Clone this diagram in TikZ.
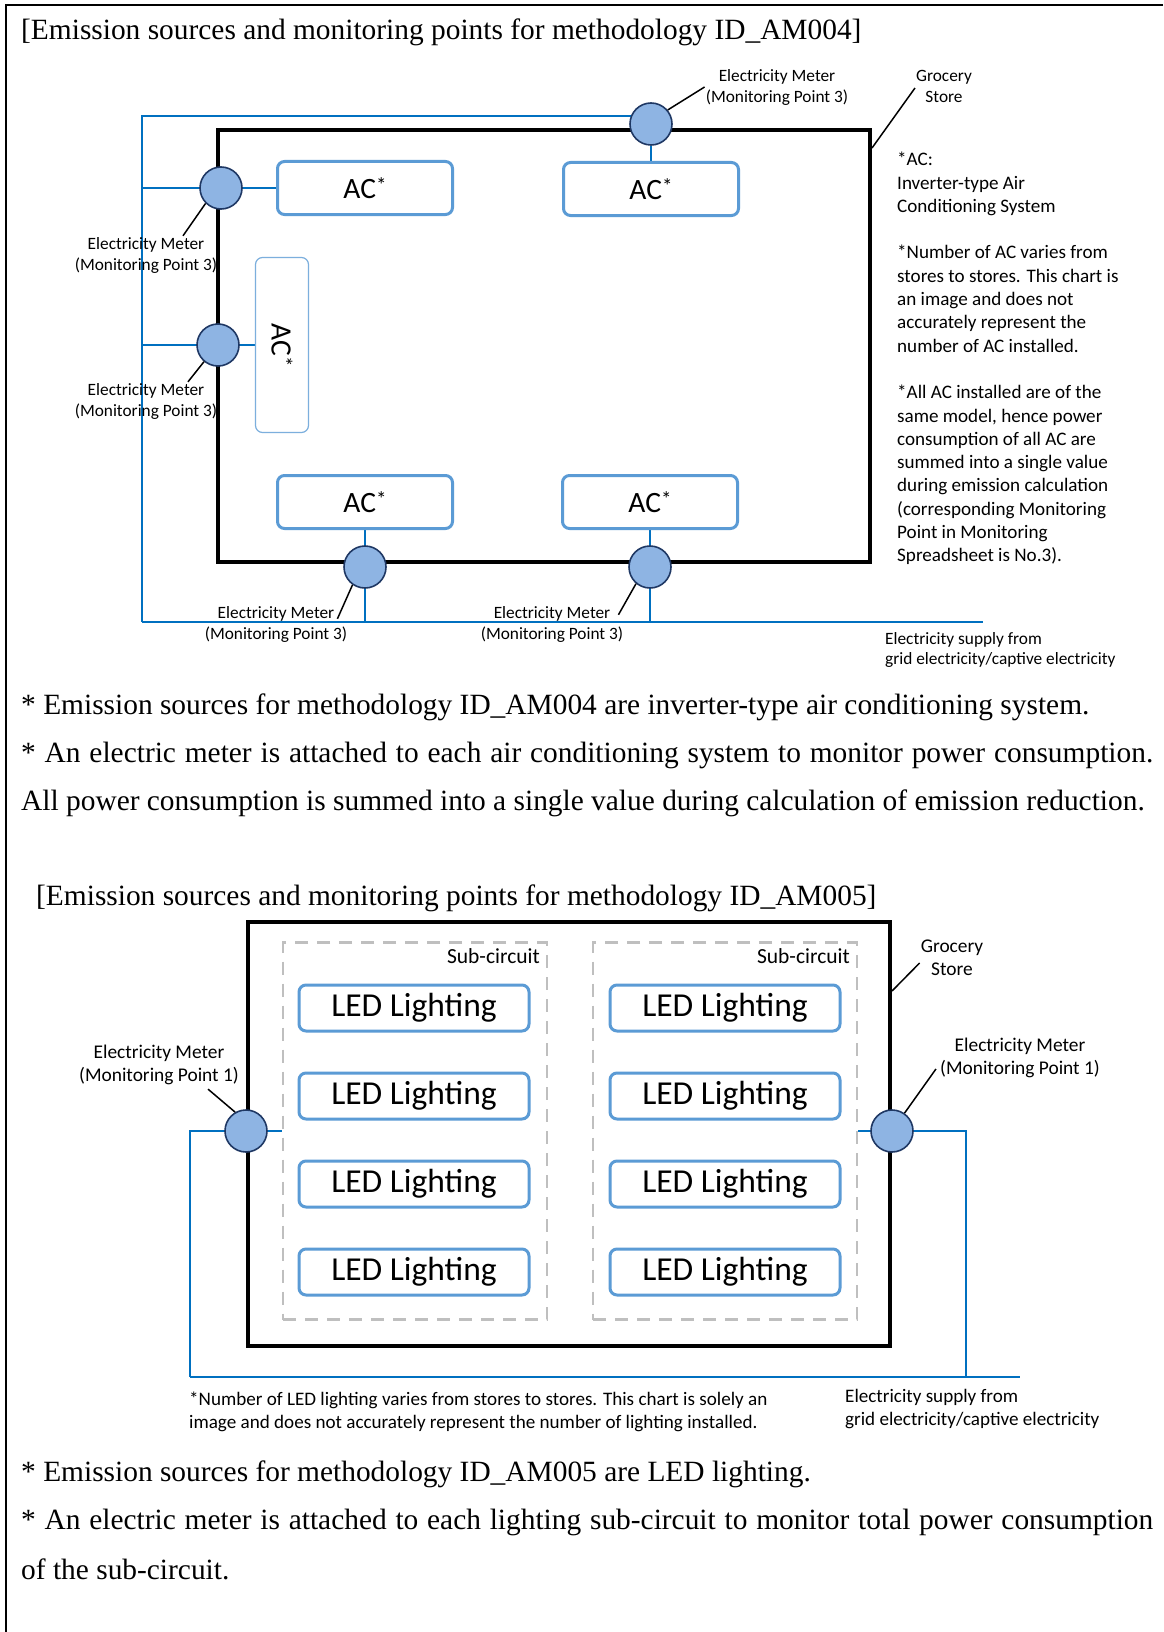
\documentclass[tikz,border=0pt]{standalone}
\usepackage{fontspec}
\setmainfont{Liberation Serif}
\newfontfamily\calibri{Carlito}
\usetikzlibrary{backgrounds}
\definecolor{meterfill}{RGB}{142, 180, 227}
\definecolor{meternavy}{RGB}{31, 56, 100}
\definecolor{boxblue}{RGB}{91, 155, 213}
\definecolor{lineblue}{RGB}{0, 112, 192}
\definecolor{dashgray}{RGB}{191, 191, 191}
\newcommand\acstar{AC\raisebox{0.2em}{\fontsize{21}{21}\selectfont *}}
\tikzset{
  store/.style      = {rectangle, draw=black, line width=4pt, inner sep=0pt},
  acbox/.style      = {rectangle, rounded corners=7pt, draw=boxblue, line width=3pt, fill=white, minimum width=175pt, minimum height=53pt, font=\calibri\fontsize{29.5}{32}\selectfont},
  acslim/.style     = {rectangle, rounded corners=7pt, draw=boxblue!80, line width=1.2pt, fill=white, minimum width=53pt, minimum height=175pt, inner sep=0pt, font=\calibri\fontsize{29.5}{32}\selectfont},
  ledbox/.style     = {rectangle, rounded corners=7pt, draw=boxblue, line width=3pt, fill=white, minimum width=230pt, minimum height=46pt, font=\calibri\fontsize{33.5}{36}\selectfont},
  subbox/.style     = {rectangle, draw=dashgray, line width=2.5pt, dash pattern=on 13pt off 9pt, inner sep=0pt},
  meter/.style      = {circle, draw=meternavy, fill=meterfill, line width=1.6pt, minimum size=42pt, inner sep=0pt},
  meterlab/.style   = {align=center, inner sep=1pt, font=\calibri\fontsize{17.3}{21}\selectfont},
  bigmeterlab/.style= {align=center, inner sep=1pt, font=\calibri\fontsize{19.4}{23}\selectfont},
  sublab/.style     = {inner sep=0pt, font=\calibri\fontsize{21.5}{24}\selectfont},
  sidenote/.style   = {align=left, inner sep=0pt, font=\calibri\fontsize{19.1}{23.3}\selectfont},
  footnote/.style   = {align=left, inner sep=0pt, font=\calibri\fontsize{17.3}{20}\selectfont},
  bigfootnote/.style= {align=left, inner sep=0pt, font=\calibri\fontsize{19.1}{23}\selectfont},
  heading/.style    = {anchor=west, inner sep=0pt, font=\fontsize{29.4}{34}\selectfont},
  bodyline/.style   = {anchor=west, inner sep=0pt, font=\fontsize{29.4}{34}\selectfont},
  wire/.style       = {lineblue, line width=1.5pt},
  mainwire/.style   = {lineblue, line width=2.5pt},
  leader/.style     = {black, line width=1.5pt},
}

\begin{document}
\begin{tikzpicture}[x=1pt, y=-1pt]
  \useasboundingbox (0,0) rectangle (1163,1632);
  \draw[line width=2.5pt] (1163,5) -- (6,5) -- (6,1632);

  % ID_AM004
  \node[heading] (title1) at (21,32) {[Emission sources and monitoring points for methodology ID\_AM004]};
  \node[store, minimum width=652pt, minimum height=432pt] (store1) at (544,346) {};
  \node[acbox] (ac1) at (365,188) {\acstar};
  \node[acbox] (ac2) at (651,189) {\acstar};
  \node[acslim] (ac3) at (282,345) {\rotatebox{-90}{\acstar}};
  \node[acbox] (ac4) at (365,502) {\acstar};
  \node[acbox] (ac5) at (650,502) {\acstar};
  \node[meter] (m1) at (651,124) {};
  \node[meter] (m2) at (221,188) {};
  \node[meter] (m3) at (218,345) {};
  \node[meter] (m4) at (365,567) {};
  \node[meter] (m5) at (650,567) {};
  \coordinate (sup1top) at (142,116);
  \coordinate (sup1bot) at (142,622);
  \coordinate (sup1end) at (983,622);

  \node[meterlab] (lab1) at (777,87) {Electricity Meter\\(Monitoring Point 3)};
  \node[meterlab] (lab2) at (146,255) {Electricity Meter\\(Monitoring Point 3)};
  \node[meterlab] (lab3) at (146,401) {Electricity Meter\\(Monitoring Point 3)};
  \node[meterlab] (lab4) at (276,624) {Electricity Meter\\(Monitoring Point 3)};
  \node[meterlab] (lab5) at (552,624) {Electricity Meter\\(Monitoring Point 3)};
  \node[meterlab] (shop1) at (944,86) {Grocery\\Store};
  \node[sidenote, anchor=north west] (acnote) at (897,152) {*AC:\\Inverter-type Air\\Conditioning System\\[23.3pt]
    *Number of AC varies from\\stores to stores. This chart is\\an image and does not\\accurately represent the\\number of AC installed.\\[23.3pt]
    *All AC installed are of the\\same model, hence power\\consumption of all AC are\\summed into a single value\\during emission calculation\\(corresponding Monitoring\\Point in Monitoring\\Spreadsheet is No.3).};
  \node[footnote, anchor=north west] (supply1) at (885,632) {Electricity supply from\\grid electricity/captive electricity};

  \begin{scope}[on background layer]
    \fill[white] (0,0) rectangle (1163,1632);
    \draw[wire] (m1 |- sup1top) -- (sup1top) -- (sup1bot);
    \draw[mainwire] (sup1bot) -- (sup1end);
    \draw[wire] (sup1top |- m2) -- (ac1.west);
    \draw[wire] (sup1top |- m3) -- (ac3.west);
    \draw[wire] (m1) -- (ac2.north);
    \draw[wire] (ac4.south) -- (m4 |- sup1bot);
    \draw[wire] (ac5.south) -- (m5 |- sup1bot);
  \end{scope}

  \draw[leader] (m1.40) -- (lab1.west);
  \draw[leader] (m2.225) -- ([xshift=37pt]lab2.north);
  \draw[leader] (m3.230) -- ([xshift=42pt]lab3.north);
  \draw[leader] (m4.235) -- ([shift={(-11,14)}]lab4.north east);
  \draw[leader] (m5.230) -- ([shift={(-6,10)}]lab5.north east);
  \draw[leader] ([yshift=-20pt]store1.north east) -- ([yshift=-2pt]shop1.west);

  \node[bodyline] (note1a) at (21,707) {* Emission sources for methodology ID\_AM004 are inverter-type air conditioning system.};
  \node[bodyline] (note1b) at (21,755) {\makebox[1132pt][s]{* An electric meter is attached to each air conditioning system to monitor power consumption.}};
  \node[bodyline] (note1c) at (21,803) {All power consumption is summed into a single value during calculation of emission reduction.};

  % ID_AM005
  \node[heading] (title2) at (36,898) {[Emission sources and monitoring points for methodology ID\_AM005]};
  \node[store, minimum width=642pt, minimum height=424pt] (store2) at (569,1134) {};
  \node[subbox, minimum width=264pt, minimum height=377pt] (sub1) at (415,1131) {};
  \node[subbox, minimum width=264pt, minimum height=377pt] (sub2) at (725,1131) {};
  \node[sublab, anchor=north east] (subname1) at (540,948) {Sub-circuit};
  \node[sublab, anchor=north east] (subname2) at (850,948) {Sub-circuit};
  \node[ledbox] (led1) at (414,1008) {LED Lighting};
  \node[ledbox] (led2) at (414,1096) {LED Lighting};
  \node[ledbox] (led3) at (414,1184) {LED Lighting};
  \node[ledbox] (led4) at (414,1272) {LED Lighting};
  \node[ledbox] (led5) at (725,1008) {LED Lighting};
  \node[ledbox] (led6) at (725,1096) {LED Lighting};
  \node[ledbox] (led7) at (725,1184) {LED Lighting};
  \node[ledbox] (led8) at (725,1272) {LED Lighting};
  \node[meter] (mm1) at (246,1131) {};
  \node[meter] (mm2) at (892,1131) {};
  \coordinate (sup2left) at (190,1131);
  \coordinate (sup2right) at (966,1131);
  \coordinate (sup2bot) at (190,1377);
  \coordinate (sup2end) at (1020,1377);

  \node[bigmeterlab] (lab6) at (159,1065) {Electricity Meter\\(Monitoring Point 1)};
  \node[bigmeterlab] (lab7) at (1020,1058) {Electricity Meter\\(Monitoring Point 1)};
  \node[bigmeterlab] (shop2) at (952,958) {Grocery\\Store};
  \node[bigfootnote, anchor=north west] (ledfoot) at (189,1392) {*Number of LED lighting varies from stores to stores. This chart is solely an\\image and does not accurately represent the number of lighting installed.};
  \node[bigfootnote, anchor=north west] (supply2) at (845,1389) {Electricity supply from\\grid electricity/captive electricity};

  \begin{scope}[on background layer]
    \draw[wire] (sub1.west) -- (sup2left) -- (sup2bot);
    \draw[wire] (sub2.east) -- (sup2right) -- (sup2right |- sup2bot);
    \draw[mainwire] (sup2bot) -- (sup2end);
  \end{scope}

  \draw[leader] (mm1.120) -- ([shift={(49,3)}]lab6.south);
  \draw[leader] (mm2.55) -- ([shift={(-3,11)}]lab7.west);
  \draw[leader] ([yshift=-71pt]store2.north east) -- ([yshift=-5pt]shop2.west);

  \node[bodyline] (note2a) at (21,1474) {* Emission sources for methodology ID\_AM005 are LED lighting.};
  \node[bodyline] (note2b) at (21,1522) {\makebox[1132pt][s]{* An electric meter is attached to each lighting sub-circuit to monitor total power consumption}};
  \node[bodyline] (note2c) at (21,1569) {of the sub-circuit.};
\end{tikzpicture}
\end{document}
